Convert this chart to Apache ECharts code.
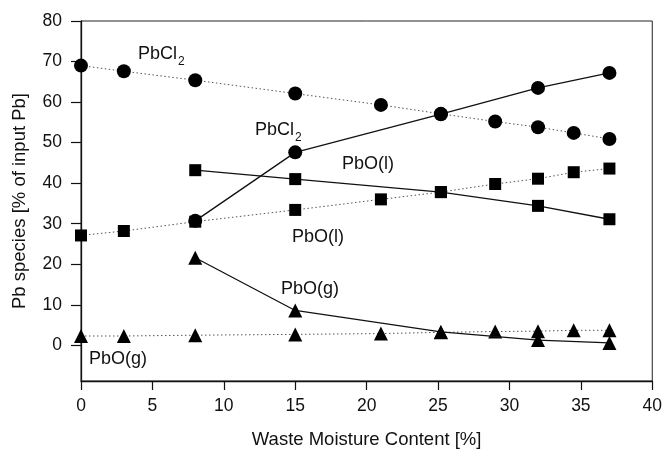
<!DOCTYPE html>
<html>
<head>
<meta charset="utf-8">
<script src="https://cdn.jsdelivr.net/npm/echarts@6/dist/echarts.min.js"></script>
<style>
  html, body { margin: 0; padding: 0; background: #fff; }
  #chart { width: 665px; height: 454px; }
</style>
</head>
<body>
<div id="chart"></div>
<script>
// moisture contents (x) for the two measurement sets
var moistureDotted = [0, 3, 8, 15, 21, 25.2, 29, 32, 34.5, 37]
var moistureSolid = [8, 15, 25.2, 32, 37]

// dotted curves
var pbcl2Dotted = [69, 67.6, 65.4, 62.1, 59.3, 57.1, 55.2, 53.8, 52.4, 50.9]
var pboLiqDotted = [27.1, 28.2, 30.5, 33.4, 36.0, 37.8, 39.8, 41.1, 42.7, 43.6]
var pboGasDotted = [2.3, 2.3, 2.5, 2.7, 2.9, 3.2, 3.4, 3.5, 3.7, 3.7]

// solid curves
var pbcl2Solid = [30.7, 47.6, 57.0, 63.5, 67.2]
var pboLiqSolid = [43.2, 41.0, 37.8, 34.4, 31.1]
var pboGasSolid = [21.6, 8.6, 3.3, 1.3, 0.6]

var xTicks = [0, 5, 10, 15, 20, 25, 30, 35, 40]
var yTicks = [0, 10, 20, 30, 40, 50, 60, 70, 80]

var FONT = '"Liberation Sans", Arial, Helvetica, sans-serif'

function pairs(xs, ys) {
  return xs.map(function (x, i) { return [x, ys[i]] })
}

function makeSeries(xs, ys, symbol, size, dotted) {
  return {
    type: 'line',
    data: pairs(xs, ys),
    symbol: symbol,
    symbolSize: size,
    showSymbol: true,
    itemStyle: { color: '#000' },
    lineStyle: dotted
      ? { color: '#555', width: 1, type: [1.5, 2.5] }
      : { color: '#111', width: 1.3, type: 'solid' },
    z: dotted ? 2 : 3,
    animation: false
  }
}

// text label helper (main text + optional subscript)
function label(x, y, txt, sub) {
  var out = [{
    type: 'text', left: x, top: y,
    style: { text: txt, font: '18px ' + FONT, fill: '#111' }
  }]
  if (sub) {
    out.push({
      type: 'text', left: x + sub.dx, top: y + 11,
      style: { text: sub.t, font: '12px ' + FONT, fill: '#111' }
    })
  }
  return out
}

var chart = echarts.init(document.getElementById('chart'))

var option = {
  backgroundColor: '#fff',
  animation: false,
  grid: {
    left: 81, right: 11, top: 21, bottom: 71,
    show: true, borderColor: '#222', borderWidth: 1
  },
  xAxis: {
    type: 'value',
    min: 0, max: 40,
    name: 'Waste Moisture Content [%]',
    nameLocation: 'middle',
    nameGap: 49,
    nameTextStyle: { fontFamily: FONT, fontSize: 18.5, color: '#111' },
    axisLine: { show: true, onZero: false, lineStyle: { color: '#111', width: 1.3 } },
    axisTick: { show: true, length: 9, customValues: xTicks, lineStyle: { color: '#111', width: 1.2 } },
    axisLabel: { customValues: xTicks, fontFamily: FONT, fontSize: 17.5, color: '#111', margin: 16 },
    splitLine: { show: false }
  },
  yAxis: {
    type: 'value',
    min: -8.8, max: 80,
    name: 'Pb species [% of input Pb]',
    nameLocation: 'middle',
    nameGap: 52,
    nameTextStyle: { fontFamily: FONT, fontSize: 18.5, color: '#111' },
    axisLine: { show: true, onZero: false, lineStyle: { color: '#111', width: 1.3 } },
    axisTick: { show: true, length: 10, customValues: yTicks, lineStyle: { color: '#111', width: 1.2 } },
    axisLabel: { customValues: yTicks, fontFamily: FONT, fontSize: 17.5, color: '#111', margin: 19 },
    splitLine: { show: false }
  },
  series: [
    makeSeries(moistureDotted, pbcl2Dotted, 'circle', 14, true),
    makeSeries(moistureDotted, pboLiqDotted, 'rect', 12, true),
    makeSeries(moistureDotted, pboGasDotted, 'triangle', 14, true),
    makeSeries(moistureSolid, pbcl2Solid, 'circle', 14, false),
    makeSeries(moistureSolid, pboLiqSolid, 'rect', 12, false),
    makeSeries(moistureSolid, pboGasSolid, 'triangle', 14, false)
  ],
  graphic: [].concat(
    label(138, 45, 'PbCl', { dx: 40, t: '2' }),
    label(255, 121, 'PbCl', { dx: 40, t: '2' }),
    label(342, 155, 'PbO(l)'),
    label(292, 228, 'PbO(l)'),
    label(281, 280, 'PbO(g)'),
    label(89, 350, 'PbO(g)')
  )
}

chart.setOption(option)
</script>
</body>
</html>
